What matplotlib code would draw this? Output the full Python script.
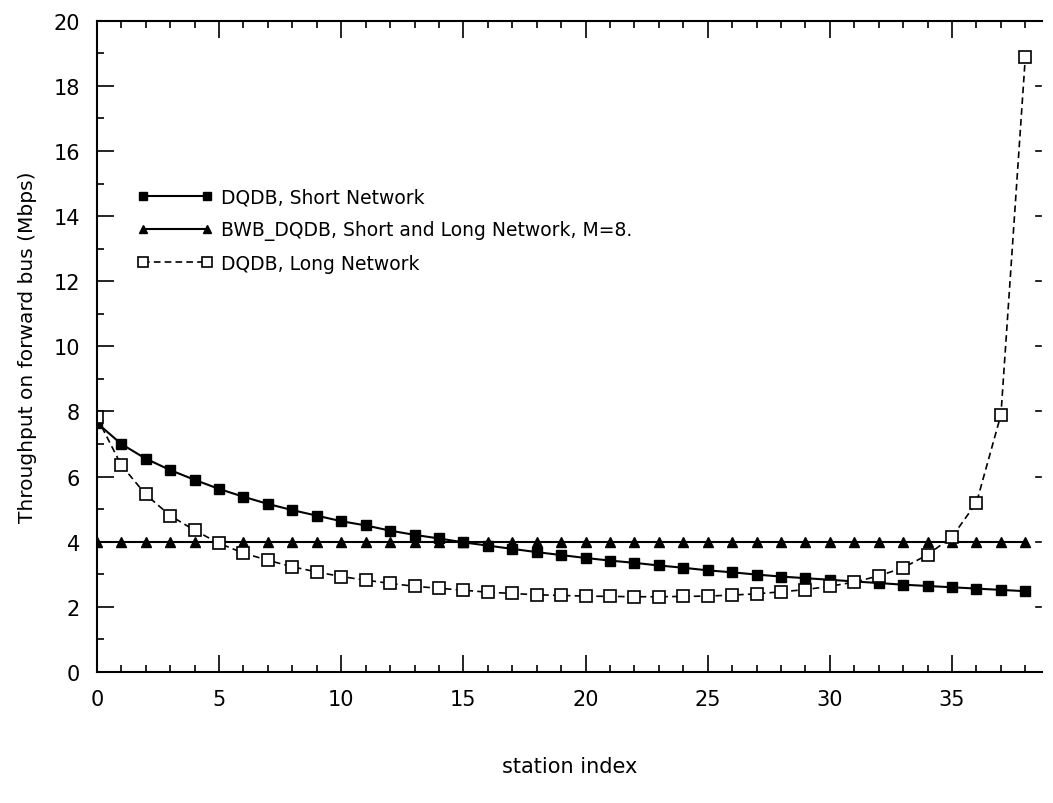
import matplotlib
matplotlib.use("Agg")
import matplotlib.pyplot as plt
from matplotlib.ticker import MultipleLocator

station = list(range(39))
dqdb_short = [7.65, 7.0, 6.55, 6.2, 5.9, 5.62, 5.38, 5.16, 4.97, 4.8, 4.63, 4.5, 4.34, 4.21, 4.1,
              3.98, 3.88, 3.78, 3.68, 3.59, 3.5, 3.42, 3.35, 3.27, 3.2, 3.12, 3.06, 2.99, 2.93,
              2.88, 2.83, 2.78, 2.73, 2.68, 2.64, 2.6, 2.56, 2.52, 2.48]
bwb_dqdb = [4.0] * 39
dqdb_long = [7.82, 6.35, 5.45, 4.8, 4.35, 3.95, 3.65, 3.43, 3.23, 3.07, 2.93, 2.82, 2.72, 2.63,
             2.57, 2.51, 2.45, 2.41, 2.37, 2.35, 2.33, 2.32, 2.31, 2.31, 2.32, 2.33, 2.36, 2.4,
             2.46, 2.53, 2.63, 2.76, 2.95, 3.2, 3.6, 4.15, 5.2, 7.9, 18.9]

labels = ["DQDB, Short Network",
          "BWB_DQDB, Short and Long Network, M=8.",
          "DQDB, Long Network"]

plt.rcParams['font.family'] = ['DejaVu Sans']
fig = plt.figure(figsize=(10.53, 8.04), dpi=100)
ax = fig.add_axes([0.092, 0.163, 0.898, 0.81])

ax.plot(station, dqdb_short, color='black', lw=1.5, marker='s', ms=6.5, label=labels[0])
ax.plot(station, bwb_dqdb, color='black', lw=1.5, marker='^', ms=6.5, label=labels[1])
ax.plot(station, dqdb_long, color='black', lw=1.2, ls=(0, (4, 2.5)), marker='s', ms=8,
        mfc='white', mec='black', mew=1.2, label=labels[2])

ax.set_xlim(0, 38.7)
ax.set_ylim(0, 20)
ax.xaxis.set_major_locator(MultipleLocator(5))
ax.xaxis.set_minor_locator(MultipleLocator(1))
ax.yaxis.set_major_locator(MultipleLocator(2))
ax.yaxis.set_minor_locator(MultipleLocator(1))
ax.tick_params(which='both', direction='in', top=True, right=False, labelsize=15, width=1.2)
ax.tick_params(which='major', length=12, pad=12)
ax.tick_params(which='minor', length=5)
for s in ['left', 'bottom', 'top']:
    ax.spines[s].set_linewidth(1.5)
ax.spines['right'].set_visible(False)

# short tick marks on the right side (major y positions)
for yv in range(2, 20, 2):
    ax.plot([38.45, 38.65], [yv, yv], color='black', lw=1.2, clip_on=False)

ax.set_xlabel("station index", fontsize=15, labelpad=34)
ax.set_ylabel("Throughput on forward bus (Mbps)", fontsize=14.5, labelpad=12)

leg = ax.legend(loc='upper left', bbox_to_anchor=(0.035, 0.755), frameon=False, fontsize=13.5,
                numpoints=2, handlelength=4.0, handletextpad=0.45, labelspacing=0.72,
                markerscale=0.9, borderaxespad=0.0)

fig.savefig("out.png", dpi=100)
